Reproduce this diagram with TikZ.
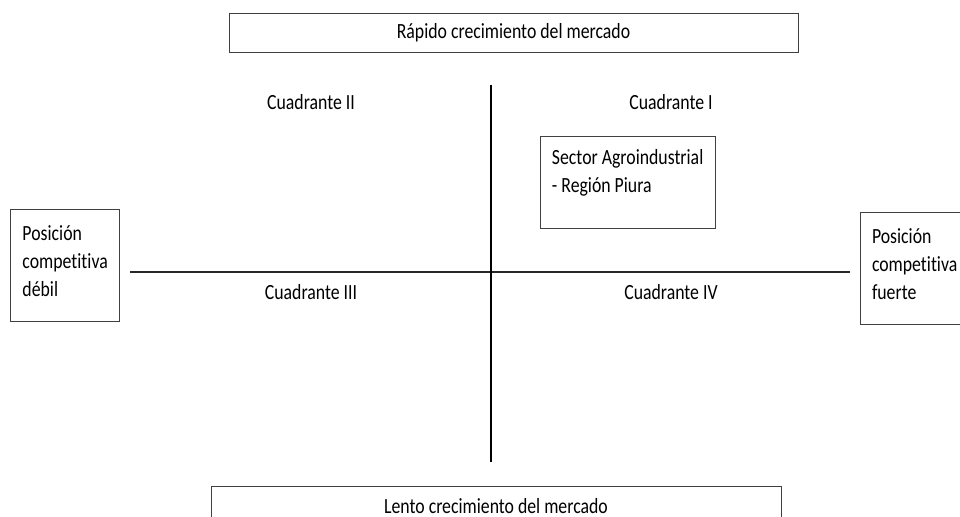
\documentclass[tikz,border=0pt]{standalone}
\usepackage{fontspec}
\setmainfont{Carlito}[Ligatures=NoCommon,FakeStretch=0.82]
\begin{document}
\begin{tikzpicture}[
    x=0.025cm,y=-0.025cm,
    every node/.style={font=\fontsize{15.4}{19.9}\selectfont},
    caja/.style={draw=black!75,line width=0.7pt,inner sep=0pt},
    eje/.style={line width=1.4pt}]
    \def\px{0.025cm}
    \useasboundingbox (0,0) rectangle (960,517);
    \clip (0,0) rectangle (960,517);

    % ejes
    \coordinate (izq) at (130,272);
    \coordinate (der) at (850,272);
    \coordinate (arriba) at (491,85);
    \coordinate (abajo) at (491,462);
    \draw[black!85,line width=1pt] (izq) -- (der);
    \draw[eje] (arriba) -- (abajo);

    % cajas
    \node[caja,minimum width=569*\px,minimum height=39*\px] (rapido) at (513.5,32.5)
        {Rápido crecimiento del mercado};
    \node[caja,minimum width=570*\px,minimum height=40*\px] (lento) at (496,506)
        {Lento crecimiento del mercado};
    \node[caja,minimum width=109*\px,minimum height=112*\px] (debil) at (64.5,265)
        {\parbox{2.1cm}{\raggedright Posición\\competitiva\\débil\vspace{6pt}}};
    \node[caja,minimum width=100*\px,minimum height=112*\px] (fuerte) at (910,268)
        {\parbox{1.9cm}{\raggedright Posición\\competitiva\\fuerte\vspace{6pt}}};
    \node[caja,inner xsep=11*\px,minimum width=174*\px] (sector) at (628,182.5)
        {\parbox[c][2.3cm][t]{3.8cm}{\vspace{9pt}Sector Agroindustrial\\- Región Piura}};

    % cuadrantes
    \node (c2) at (311,102) {Cuadrante II};
    \node (c1) at (671,102) {Cuadrante I};
    \node (c3) at (311,292) {Cuadrante III};
    \node (c4) at (671,292) {Cuadrante IV};
\end{tikzpicture}
\end{document}
